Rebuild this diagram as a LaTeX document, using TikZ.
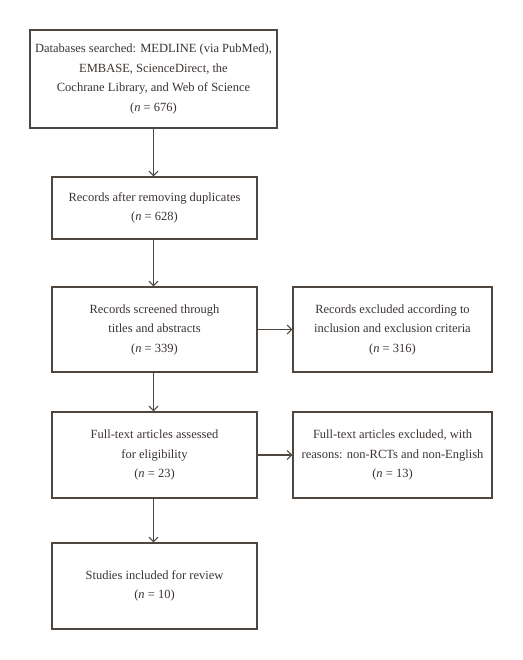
\documentclass[tikz,border=0pt]{standalone}
\usepackage{fontspec}
\setmainfont{Liberation Serif}
\usetikzlibrary{arrows.meta}
\definecolor{linec}{HTML}{4E4640}
\definecolor{textc}{HTML}{3A3330}
\newcommand{\nval}[1]{(\textit{n} = #1)}
\tikzset{
  box/.style={draw=linec, line width=1.2pt, rectangle, inner sep=0pt, align=center,
    text=textc, font=\fontsize{12.5}{19.5}\selectfont},
  flow/.style={draw=linec, line width=1.2pt, -{Straight Barb[length=4.5pt,width=9pt,line width=1.1pt]}}
}
\begin{document}
\begin{tikzpicture}[x=1pt,y=1pt]
\useasboundingbox (0,0) rectangle (522,660);
\node[box, minimum width=247pt, minimum height=98pt] (b1) at (153.5,581)
  {Databases searched: MEDLINE (via PubMed),\\EMBASE, ScienceDirect, the\\Cochrane Library, and Web of Science\\\nval{676}};
\node[box, minimum width=205pt, minimum height=62pt] (b2) at (154.5,452)
  {Records after removing duplicates\\\nval{628}};
\node[box, minimum width=205pt, minimum height=85pt] (b3) at (154.5,330.5)
  {Records screened through\\titles and abstracts\\\nval{339}};
\node[box, minimum width=199pt, minimum height=85pt] (b3r) at (392.5,330.5)
  {Records excluded according to\\inclusion and exclusion criteria\\\nval{316}};
\node[box, minimum width=205pt, minimum height=86pt] (b4) at (154.5,205)
  {Full-text articles assessed\\for eligibility\\\nval{23}};
\node[box, minimum width=199pt, minimum height=86pt] (b4r) at (392.5,205)
  {Full-text articles excluded, with\\reasons: non-RCTs and non-English\\\nval{13}};
\node[box, minimum width=205pt, minimum height=86pt] (b5) at (154.5,74)
  {Studies included for review\\\nval{10}};
\draw[flow] (b1.south) -- (b1.south |- b2.north);
\draw[flow] (b2.south -| b1.south) -- (b1.south |- b3.north);
\draw[flow] (b3.south -| b1.south) -- (b1.south |- b4.north);
\draw[flow] (b4.south -| b1.south) -- (b1.south |- b5.north);
\draw[flow] (b3.east) -- (b3r.west);
\draw[flow] (b4.east) -- (b4r.west);
\end{tikzpicture}
\end{document}
